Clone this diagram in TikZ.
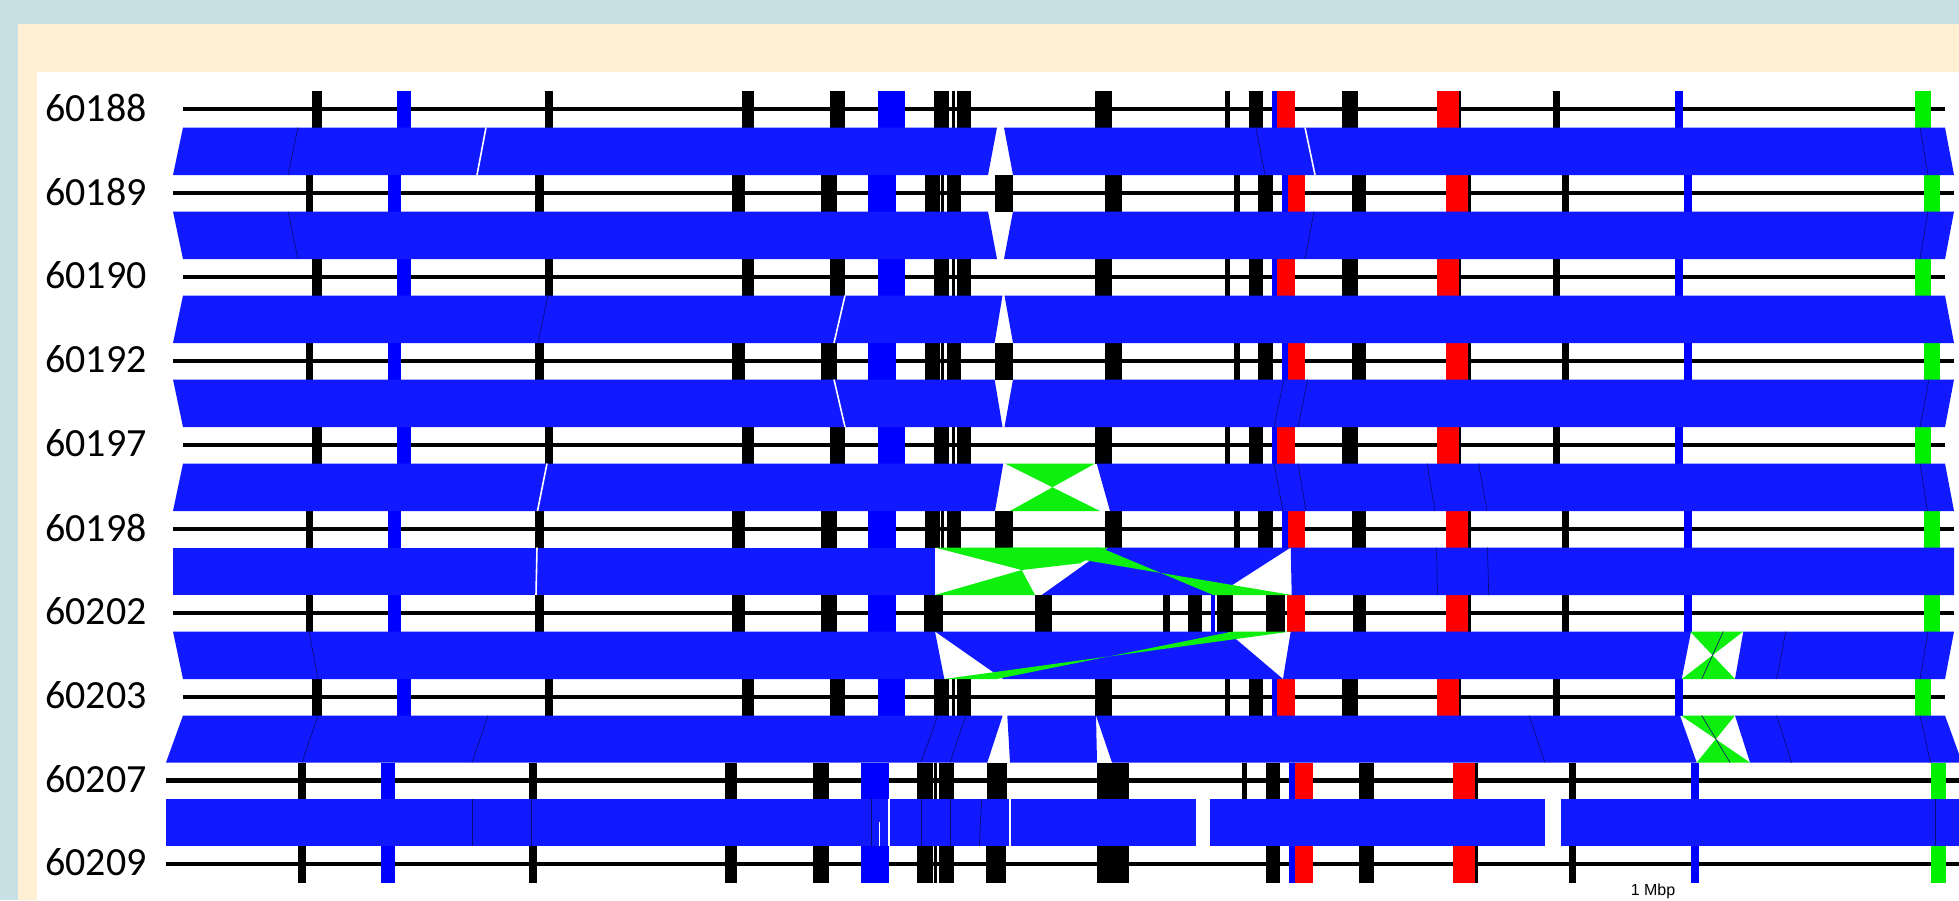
\documentclass[tikz,border=0pt]{standalone}
\usepackage{fontspec}
\setmainfont{Carlito}
\newfontfamily\mbpFont{Liberation Sans}
\definecolor{fondoAzul}{HTML}{C8E0E4}
\definecolor{marcoCrema}{HTML}{FFF0D4}
\definecolor{bandBlue}{HTML}{1019FF}
\definecolor{tkblue}{HTML}{0000FF}
\definecolor{tkgreen}{HTML}{00F000}
\definecolor{invGreen}{HTML}{0DF00D}
\definecolor{sepDark}{HTML}{0A0A70}

% tick lists: left/right/colour
\def\tksA{312/322/black, 397/411/tkblue, 545/553/black, 741.5/753.6/black, 830/845/black, 878/905/tkblue, 934/949/black, 952/954.5/black, 957/971/black, 1095/1112/black, 1224.5/1230/black, 1249/1263/black, 1272/1277/tkblue, 1277/1295/red, 1342/1357.6/black, 1437/1458.5/red, 1458.5/1461/black, 1552.6/1560/black, 1675/1682.5/tkblue, 1914.5/1930.5/tkgreen}
\def\tksB{306/313/black, 388/401/tkblue, 535/544/black, 732/745/black, 821/837/black, 868/896/tkblue, 925/939.5/black, 941/944/black, 946.5/961/black, 994.6/1013/black, 1105/1122/black, 1234/1240/black, 1258/1273/black, 1281.6/1287.5/tkblue, 1287.5/1305/red, 1351.7/1366.4/black, 1446/1468/red, 1468/1471/black, 1562/1569/black, 1684/1692/tkblue, 1923.7/1939.7/tkgreen}
\def\tksBb{306/313/black, 388/401/tkblue, 535/544/black, 732/745/black, 821/837/black, 868/896/tkblue, 924/943.3/black, 1035/1051.7/black, 1163.3/1170/black, 1188.3/1201.7/black, 1211/1215/tkblue, 1216.7/1232.7/black, 1265.7/1285/black, 1286.7/1305/red, 1352.5/1366.4/black, 1446/1468/red, 1468/1471/black, 1562/1569/black, 1684/1692/tkblue, 1924/1939.7/tkgreen}
\def\tksC{298/306/black, 381/395/tkblue, 528.5/536.6/black, 724.5/737/black, 813/828.6/black, 861/889/tkblue, 917.3/932.7/black, 934.3/936.7/black, 939.3/953.5/black, 987/1007/black, 1097/1129/black, 1241.5/1247/black, 1266/1280/black, 1289/1294.6/tkblue, 1294.6/1312.5/red, 1359/1374/black, 1453/1475/red, 1475/1478/black, 1569/1576/black, 1691/1699/tkblue, 1931/1946.4/tkgreen}
\def\tksCb{298/306/black, 381/395/tkblue, 528.5/536.6/black, 724.5/737/black, 813/828.6/black, 861/889/tkblue, 917.3/932.7/black, 934.3/936.7/black, 939.3/953.5/black, 986/1006/black, 1097/1129/black, 1266/1280/black, 1289/1294.6/tkblue, 1294.6/1312.5/red, 1359/1374/black, 1453/1475/red, 1475/1478/black, 1569/1576/black, 1691/1699/tkblue, 1931/1946.4/tkgreen}

\newcommand{\tks}[2]{\foreach \xl/\xr/\col in #2 {\fill[\col] (\xl,#1-18) rectangle (\xr,#1+18.5);}}
\newcommand{\blocks}[3]{\foreach \ptl/\ptr/\pbr/\pbl in {#3} {\fill[blk] (\ptl,#1) -- (\ptr,#1) -- (\pbr,#2) -- (\pbl,#2) -- cycle;}}
\newcommand{\seps}[4]{\foreach \st/\sb in {#4} {\draw[#3] (\st,#1) -- (\sb,#2);}}

\begin{document}
\begin{tikzpicture}[x=0.5pt, y=-0.5pt,
        lbl/.style={anchor=east, inner sep=0pt, font=\fontsize{20}{24}\selectfont},
        gline/.style={line width=2.3pt, black},
        blk/.style={fill=bandBlue},
        inv/.style={fill=invGreen},
        sepd/.style={draw=sepDark, line width=0.3pt},
        sepw/.style={draw=white, line width=0.8pt}
    ]
    \useasboundingbox (0,0) rectangle (1959,900);
    \clip (0,0) rectangle (1959,900);
    \fill[fondoAzul] (0,0) rectangle (1959,900);
    \fill[marcoCrema] (18,24) rectangle (1959,900);
    \fill[white] (37,72) rectangle (1959,900);

    % genome names
    \foreach \ry/\gid in {109/60188, 193/60189, 277/60190, 361/60192, 445/60197, 529/60198, 613/60202, 697/60203, 780.5/60207, 864/60209}
        \node[lbl] (g\gid) at (147,\ry-1.5) {\gid};

    % genome lines and ticks
    \foreach \ry in {109,277,445,697} {\draw[gline] (183,\ry) -- (1945,\ry); \tks{\ry}{\tksA}}
    \foreach \ry in {193,361,529} {\draw[gline] (173,\ry) -- (1954,\ry); \tks{\ry}{\tksB}}
    \draw[gline] (173,613) -- (1954,613); \tks{613}{\tksBb}
    \draw[gline] (166,780.5) -- (1962,780.5); \tks{780.5}{\tksC}
    \draw[gline] (166,864) -- (1962,864); \tks{864}{\tksCb}

    % 60188 - 60189
    \blocks{127.5}{175}{183/997/988/173, 1004/1945/1954/1013}
    \seps{127.5}{175}{sepd}{298/288, 1255.8/1265, 1920/1928}
    \seps{127.5}{175}{sepw}{486/477, 1305/1315}
    % 60189 - 60190
    \blocks{211.5}{259}{173/988/997/183, 1013/1954/1945/1004}
    \seps{211.5}{259}{sepd}{288/298, 1314/1305, 1928/1920}
    % 60190 - 60192
    \blocks{295.5}{343}{183/1002.5/994.6/173, 1004.5/1945/1954/1013}
    \seps{295.5}{343}{sepd}{548/538}
    \seps{295.5}{343}{sepw}{845/834}
    % 60192 - 60197
    \blocks{379.5}{427}{173/994.6/1002.5/183, 1013/1954/1945/1004.5}
    \seps{379.5}{427}{sepd}{1284/1274, 1307.6/1298, 1929/1920}
    \seps{379.5}{427}{sepw}{834/845}
    % 60197 - 60198
    \blocks{463.5}{511}{183/1003.3/995/173, 1096.7/1945/1954/1110}
    \fill[inv] (1005,463.5) -- (1095,463.5) -- (1010,511) -- (1100,511) -- cycle;
    \seps{463.5}{511}{sepd}{1274/1283, 1298/1306, 1427/1435, 1478.6/1487, 1920/1927.5}
    \seps{463.5}{511}{sepw}{547/537.5}
    % 60198 - 60202
    \blocks{547.5}{595}{173/935/935/173, 1108.3/1290.7/1216.7/1041.7, 1290.7/1954/1954/1291.7}
    \fill[inv] (935,547.5) -- (1108.3,547.5) -- (1080,563.3) -- (1021.7,570) -- cycle;
    \fill[inv] (935,595) -- (1035,595) -- (1021.7,570) -- cycle;
    \fill[inv] (1010,547.5) -- (1100,547.5) -- (1213.3,595) -- (1291.7,595) -- cycle;
    \seps{547.5}{595}{sepd}{1436.6/1437.4, 1487.5/1488.7}
    \seps{547.5}{595}{sepw}{537/536}
    % 60202 - 60203
    \blocks{631.5}{679}{173/935/944.3/183, 935/1227/1283/1003, 1290.7/1691/1681.7/1283, 1743.3/1954/1945/1735}
    \fill[inv] (1233,631.5) -- (1290.7,631.5) -- (944.3,679) -- (996.7,679) -- cycle;
    \fill[inv] (1690,631.5) -- (1743.3,631.5) -- (1681.7,679) -- (1735,679) -- cycle;
    \seps{631.5}{679}{sepd}{309/318, 1723.3/1701.7, 1785.7/1776.7, 1928/1920}
    % 60203 - 60207
    \blocks{715.5}{762.5}{183/1002.7/987.3/166, 1007.3/1096/1097/1010, 1096/1680/1696.7/1112, 1735/1945/1962/1750}
    \fill[inv] (1681,715.5) -- (1735,715.5) -- (1696.7,762.5) -- (1750,762.5) -- cycle;
    \seps{715.5}{762.5}{sepd}{318/302, 488/472, 937.7/921, 965.7/950, 1529/1545, 1701.7/1730, 1776.7/1791.7, 1920/1930.5}
    % 60207 - 60209
    \blocks{799}{846}{166/1195.5/1195.5/166, 1210/1545/1545/1210, 1561/1962/1962/1561}
    \seps{799}{846}{sepd}{472/472, 531/531, 871/871, 921/921, 950/950, 981.7/979.3, 1935.5/1935.5}
    \seps{799}{846}{sepw}{888.8/888.8, 1010/1010}
    \draw[sepw] (879.3,821.7) -- (879.3,846);

    \node[font=\mbpFont\fontsize{8}{10}\selectfont, anchor=north, inner sep=0pt] (mbp) at (1653,883) {1 Mbp};
\end{tikzpicture}
\end{document}
